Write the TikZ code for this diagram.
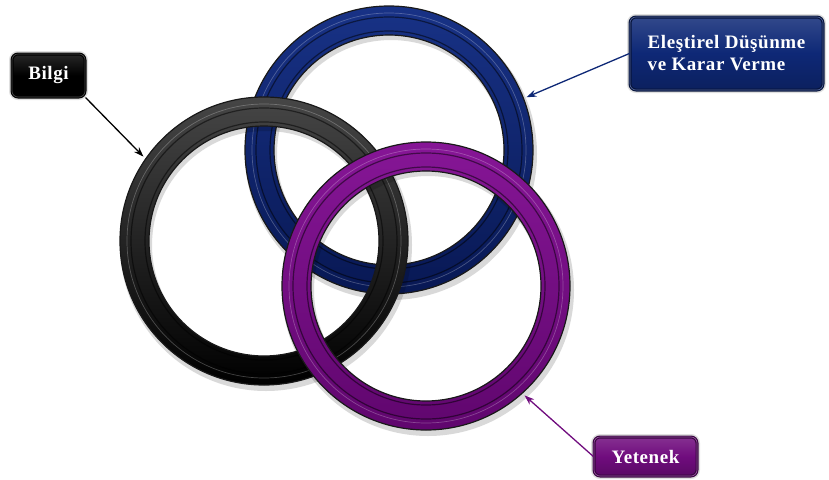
\documentclass[tikz,border=0pt]{standalone}
\usepackage{fontspec}
\setmainfont{Liberation Serif}
\usetikzlibrary{arrows.meta}

\definecolor{ringBlue}{RGB}{14,40,118}
\definecolor{ringPurple}{RGB}{112,12,126}
\definecolor{blueTop}{RGB}{24,50,134}
\definecolor{blueMid}{RGB}{12,36,112}
\definecolor{blueBot}{RGB}{8,24,84}
\definecolor{blackTop}{RGB}{70,70,70}
\definecolor{blackMid}{RGB}{0,0,0}
\definecolor{blackBot}{RGB}{0,0,0}
\definecolor{purpleTop}{RGB}{134,22,150}
\definecolor{purpleMid}{RGB}{118,14,132}
\definecolor{purpleBot}{RGB}{96,6,110}

\begin{document}
\begin{tikzpicture}[
  x=1pt,y=-1pt,
  tag/.style={draw=#1!50!black,line width=1.2pt,rounded corners=6pt,
              text=white,align=left,inner sep=0pt,
              font=\bfseries\fontsize{19}{22}\selectfont\addfontfeature{LetterSpace=3},
              top color=#1!85!white,bottom color=#1!80!black,middle color=#1,
              double=#1!70!white,double distance=.6pt,
              preaction={draw=black!12,line width=6pt}},
  ring/.style={circle,inner sep=0pt,minimum size=294pt},
  arr/.style={-{Stealth[length=10pt,width=7pt]},line width=1.3pt}
]
\useasboundingbox (0,0) rectangle (829,479);

% the three rings, back to front
\foreach \n/\ct/\cm/\cb/\cx/\cy in {blueRing/blueTop/blueMid/blueBot/389/150,
                                    blackRing/blackTop/blackMid/blackBot/264/241,
                                    purpleRing/purpleTop/purpleMid/purpleBot/426/286}{
  \fill[black,opacity=.15,even odd rule]
    (\cx+2,\cy+4) circle[radius=146] (\cx+2,\cy+4) circle[radius=114];
  \shade[even odd rule,top color=\ct,middle color=\cm,bottom color=\cb]
    (\cx,\cy) circle[radius=144] (\cx,\cy) circle[radius=115];
  \draw[white,opacity=.25,line width=.7pt] (\cx,\cy) circle[radius=137];
  \draw[black,opacity=.5,line width=1.2pt]
    (\cx,\cy) circle[radius=133] (\cx,\cy) circle[radius=119];
  \draw[black!90,line width=1.2pt]
    (\cx,\cy) circle[radius=144] (\cx,\cy) circle[radius=115];
  \node[ring] (\n) at (\cx,\cy) {};
}

\node[tag=black,minimum width=73pt,minimum height=43pt] (bilgi)
  at (48.5,75.5) {Bilgi};
\node[tag=ringBlue,minimum width=193pt,minimum height=73pt] (elestirel)
  at (726.5,53.5) {Eleştirel Düşünme\\ve Karar Verme};
\node[tag=ringPurple,minimum width=103pt,minimum height=39pt] (yetenek)
  at (645.5,456.5) {Yetenek};

\foreach \u/\v/\c in {bilgi.south east/blackRing.145/black,
                      elestirel.west/blueRing.21/ringBlue,
                      yetenek.west/purpleRing.312/ringPurple}
  {\draw[arr,\c] (\u)--(\v);}

\end{tikzpicture}
\end{document}
